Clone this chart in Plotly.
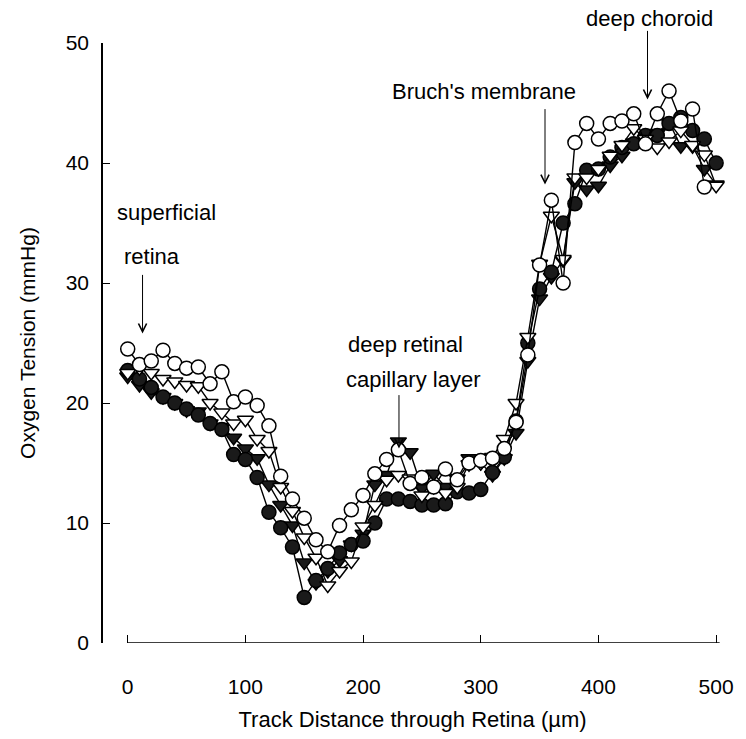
import plotly.graph_objects as go

# Track distance (µm)
x_all = [0, 10, 20, 30, 40, 50, 60, 70, 80, 90, 100, 110, 120, 130, 140, 150, 160, 170, 180, 190,
         200, 210, 220, 230, 240, 250, 260, 270, 280, 290, 300, 310, 320, 330, 340, 350, 360, 370,
         380, 390, 400, 410, 420, 430, 440, 450, 460, 470, 480, 490, 500]
x_open_circle = x_all[:-1]

# Oxygen tension (mmHg), four tracks
open_circle = [24.5, 23.2, 23.5, 24.4, 23.3, 22.9, 23.0, 21.6, 22.6, 20.1, 20.5, 19.8, 18.1, 13.9,
               12.0, 10.4, 8.6, 7.6, 9.8, 11.1, 12.3, 14.1, 15.3, 16.1, 13.3, 13.8, 13.0, 14.5, 13.6,
               15.0, 15.2, 15.4, 16.2, 18.4, 24.0, 31.5, 36.9, 30.0, 41.7, 43.3, 42.0, 43.3, 43.5,
               44.1, 41.6, 44.1, 46.0, 43.5, 44.5, 38.0]
filled_circle = [22.7, 22.0, 21.3, 20.5, 20.0, 19.5, 19.0, 18.3, 17.8, 15.7, 15.3, 13.8, 10.9, 9.6,
                 8.0, 3.8, 5.2, 6.2, 7.5, 8.2, 8.5, 10.0, 12.0, 12.0, 11.8, 11.5, 11.5, 11.6, 12.6,
                 12.5, 12.8, 14.2, 15.5, 18.5, 25.0, 29.5, 30.9, 35.0, 36.6, 39.4, 39.5, 40.5, 41.3,
                 41.6, 42.3, 42.3, 43.3, 43.8, 42.7, 42.0, 40.0]
open_triangle = [22.5, 22.9, 22.5, 22.0, 21.8, 21.5, 21.4, 20.0, 19.2, 18.3, 18.6, 17.0, 16.0, 13.0,
                 11.0, 8.8, 7.1, 4.8, 6.0, 6.8, 9.7, 11.5, 13.6, 14.0, 13.7, 12.3, 13.0, 12.5, 13.0,
                 14.9, 15.0, 15.5, 17.0, 20.0, 25.5, 31.6, 35.6, 32.0, 38.8, 38.8, 39.5, 40.6, 41.5,
                 42.9, 42.0, 41.3, 41.8, 42.7, 41.5, 40.7, 38.1]
filled_triangle = [22.2, 21.5, 20.9, 20.5, 20.0, 19.4, 19.3, 18.3, 18.0, 17.1, 16.2, 15.4, 13.2, 11.5,
                   9.8, 6.7, 5.0, 6.0, 6.9, 8.2, 9.1, 13.2, 14.0, 16.8, 15.9, 12.9, 14.1, 13.0, 13.7,
                   15.4, 15.0, 14.0, 15.4, 17.5, 23.5, 28.7, 30.5, 31.9, 38.4, 37.8, 38.1, 39.8, 40.6,
                   41.7, 42.0, 42.5, 43.4, 41.4, 41.4, 39.5, 38.2]

x_ticks = [0, 100, 200, 300, 400, 500]
y_ticks = [0, 10, 20, 30, 40, 50]

FONT = "Liberation Sans, Arial, Helvetica, sans-serif"
ANN = 22

fig = go.Figure()

def add(xs, ys, symbol, fill):
    fig.add_trace(go.Scatter(
        x=xs, y=ys, mode="lines+markers", cliponaxis=False, showlegend=False,
        line=dict(color="black", width=1.4),
        marker=dict(symbol=symbol, size=14, color=fill,
                    line=dict(color="black", width=1.5)),
    ))

add(x_all, filled_triangle, "triangle-down", "#1a1a1a")
add(x_all, filled_circle, "circle", "#1a1a1a")
add(x_all, open_triangle, "triangle-down", "white")
add(x_open_circle, open_circle, "circle", "white")

# x-axis baseline (starts at 0, detached from y-axis)
fig.add_shape(type="line", x0=0, x1=503, y0=0, y1=0, xref="x", yref="y",
              line=dict(color="black", width=1.5), layer="above")

# arrows: (x, tip y, tail offset px)
arrows = [(12.6, 25.8, -60), (230.5, 16.2, -55), (354.6, 38.2, -77), (441.7, 45.3, -70)]
for ax_, ay_, off in arrows:
    fig.add_annotation(x=ax_, y=ay_, xref="x", yref="y", text="",
                       showarrow=True, arrowhead=5, arrowsize=1.6, arrowwidth=1,
                       arrowcolor="black", ax=0, ay=off)

def label(text, x, y, xanchor="center", yref="y"):
    fig.add_annotation(x=x, y=y, xref="x", yref=yref, text=text, showarrow=False,
                       xanchor=xanchor, yanchor="middle",
                       font=dict(size=ANN, color="black", family=FONT))

label("superficial", -11, 35.9, xanchor="left")
label("retina", -5, 32.2, xanchor="left")
label("deep retinal", 236, 24.9)
label("capillary layer", 243, 22.0)
label("Bruch's membrane", 303, 46.0)
label("deep choroid", 443, 1.0416, yref="paper")

fig.update_layout(
    width=746, height=739,
    margin=dict(l=103, r=16, t=43, b=94),
    paper_bgcolor="white", plot_bgcolor="white",
    font=dict(family=FONT, color="black"),
    xaxis=dict(range=[-21, 505], tickvals=x_ticks, ticktext=[str(v) for v in x_ticks],
               ticks="inside", ticklen=8, tickwidth=1.3, tickcolor="black",
               showgrid=False, zeroline=False, showline=False,
               tickfont=dict(size=21, family=FONT), ticklabelstandoff=29,
               title=dict(text="Track Distance through Retina (µm)", standoff=14,
                          font=dict(size=22, family=FONT))),
    yaxis=dict(range=[0, 50], tickvals=y_ticks, ticktext=[str(v) for v in y_ticks],
               ticks="inside", ticklen=7, tickwidth=1.3, tickcolor="black",
               showgrid=False, zeroline=False, showline=True, linecolor="black", linewidth=1.5,
               tickfont=dict(size=21, family=FONT), ticklabelstandoff=8,
               title=dict(text="Oxygen Tension (mmHg)", standoff=24,
                          font=dict(size=21, family=FONT))),
)

fig.write_html("out.html", config={"displayModeBar": False},
               post_script="document.body.style.margin='0';")
